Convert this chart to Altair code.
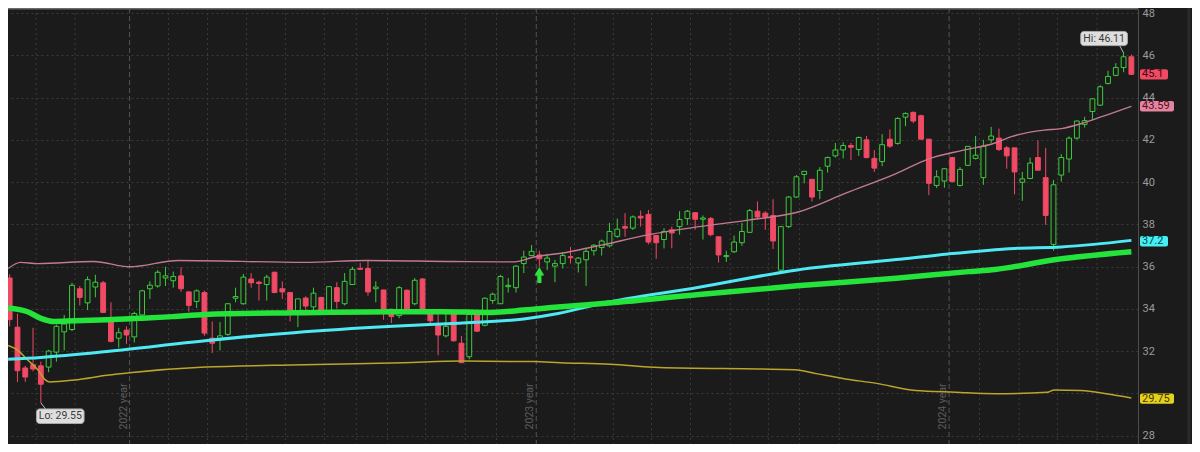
import altair as alt
import pandas as pd

# ---------------- weekly candles (index 0 = first visible week) ----------------
opens = [35.46, 33.13, 31.20, 31.35, 31.30, 31.24, 31.95, 32.91, 33.02, 34.95,
         34.28, 35.03, 35.23, 33.48, 32.61, 32.99, 32.67, 33.71, 34.95, 35.08,
         35.46, 35.33, 35.56, 34.80, 34.35, 34.77, 32.61, 32.57, 32.79, 34.50,
         34.24, 35.41, 35.26, 35.15, 35.73, 34.95, 34.77, 33.89, 34.51, 34.09,
         34.54, 33.89, 35.00, 34.24, 35.15, 35.91, 35.91, 34.95, 34.89, 33.98,
         33.68, 34.88, 34.24, 35.41, 33.83, 33.22, 32.72, 33.78, 32.37, 31.73,
         33.73, 33.22, 34.39, 34.24, 35.05, 35.00, 36.14, 36.52, 36.55, 36.22,
         36.02, 36.14, 36.47, 36.17, 36.32, 36.75, 36.90, 36.98, 37.43, 37.89,
         37.82, 38.38, 38.47, 37.47, 37.28, 37.74, 37.89, 38.27, 38.55, 38.24,
         38.27, 37.41, 36.47, 36.70, 37.13, 37.62, 38.62, 38.53, 38.42, 35.83,
         37.89, 39.29, 40.36, 40.13, 39.60, 40.75, 41.24, 41.52, 41.73, 41.54,
         42.00, 41.12, 40.97, 42.03, 41.83, 43.07, 43.30, 43.14, 42.03, 39.84,
         40.05, 41.16, 39.84, 40.79, 41.12, 40.21, 42.00, 42.08, 41.62, 41.62,
         39.99, 40.17, 41.16, 40.21, 37.05, 40.33, 41.09, 42.08, 42.73, 43.34,
         43.64, 44.67, 45.05, 45.42, 45.93]
highs = [35.64, 33.77, 31.30, 33.10, 31.50, 32.06, 33.25, 33.71, 35.23, 35.08,
         35.53, 35.61, 35.32, 34.31, 33.10, 33.17, 33.86, 34.90, 35.30, 35.83,
         35.99, 35.76, 35.96, 34.82, 34.92, 34.86, 33.40, 33.37, 34.27, 35.00,
         35.65, 35.69, 35.33, 35.61, 35.76, 35.30, 34.80, 34.47, 34.59, 35.00,
         34.56, 35.07, 35.26, 35.69, 35.99, 36.17, 36.32, 35.30, 34.91, 34.00,
         35.08, 34.92, 35.46, 35.46, 33.98, 33.78, 33.83, 33.81, 32.72, 33.78,
         33.89, 34.54, 34.77, 35.61, 35.46, 36.06, 36.75, 37.02, 36.75, 36.60,
         36.32, 36.68, 36.93, 36.45, 36.83, 37.05, 37.28, 38.07, 38.27, 38.53,
         38.42, 38.65, 38.68, 37.47, 37.82, 37.89, 38.62, 38.68, 38.58, 38.42,
         38.35, 37.41, 36.75, 37.47, 38.07, 38.73, 39.08, 38.62, 39.19, 37.89,
         39.34, 40.33, 40.52, 40.13, 40.71, 41.21, 41.85, 41.88, 41.85, 42.16,
         42.18, 41.52, 42.27, 42.49, 43.07, 43.30, 43.34, 43.19, 42.03, 40.56,
         40.66, 41.16, 40.71, 41.71, 42.18, 42.00, 42.61, 42.53, 41.70, 41.62,
         40.48, 41.16, 41.97, 41.62, 40.10, 41.32, 42.16, 42.91, 43.09, 43.98,
         44.59, 45.27, 45.63, 46.11, 46.04]
lows = [33.17, 30.53, 30.54, 31.04, 29.55, 31.00, 31.50, 32.03, 32.94, 34.16,
        33.94, 34.54, 33.80, 32.41, 32.16, 32.34, 32.41, 33.65, 34.47, 35.00,
        35.08, 35.00, 34.80, 33.86, 34.04, 32.72, 31.91, 32.03, 32.72, 34.31,
        34.19, 35.00, 34.39, 34.39, 34.74, 34.47, 33.40, 33.13, 33.94, 33.89,
        33.87, 33.87, 34.01, 34.16, 35.13, 35.84, 34.62, 34.31, 33.48, 33.32,
        33.55, 33.94, 34.16, 33.94, 33.25, 31.80, 32.64, 32.44, 31.43, 31.61,
        32.91, 33.17, 34.24, 34.24, 34.77, 34.77, 35.69, 36.52, 35.99, 35.83,
        35.26, 35.91, 36.14, 35.72, 35.08, 36.52, 36.52, 36.90, 37.36, 37.41,
        37.74, 37.89, 37.05, 36.37, 36.86, 36.86, 37.51, 37.97, 37.74, 37.28,
        37.43, 36.19, 36.22, 36.64, 36.98, 37.59, 38.23, 37.74, 36.83, 35.76,
        37.82, 39.26, 39.94, 39.08, 39.19, 40.45, 41.16, 41.12, 41.04, 41.24,
        41.12, 40.48, 40.75, 41.62, 41.77, 42.64, 42.79, 42.00, 39.38, 39.72,
        39.73, 39.99, 39.79, 40.77, 41.07, 39.87, 41.85, 41.47, 40.63, 39.42,
        39.11, 40.14, 40.56, 37.97, 36.75, 40.02, 40.45, 42.00, 42.58, 42.94,
        43.60, 44.62, 45.01, 45.20, 45.08]
closes = [33.49, 31.07, 30.77, 31.15, 30.43, 32.00, 33.17, 33.28, 35.11, 34.54,
          35.38, 35.26, 33.83, 32.46, 32.87, 32.76, 33.78, 34.85, 35.12, 35.73,
          35.56, 35.53, 34.95, 34.16, 34.85, 32.85, 32.37, 32.72, 34.24, 34.58,
          35.50, 35.23, 35.20, 35.50, 34.77, 34.80, 33.89, 34.47, 34.13, 34.74,
          33.89, 35.05, 34.35, 35.30, 35.87, 35.87, 34.80, 35.03, 33.78, 33.63,
          35.00, 33.98, 35.35, 33.98, 33.43, 32.76, 33.17, 32.49, 31.45, 33.73,
          32.94, 34.50, 34.69, 35.53, 35.11, 36.02, 36.45, 36.72, 36.37, 36.40,
          36.14, 36.52, 36.42, 36.40, 36.72, 37.01, 37.21, 37.66, 37.77, 37.82,
          38.35, 38.30, 37.16, 37.13, 37.66, 37.59, 38.23, 38.62, 38.24, 38.30,
          37.51, 36.55, 36.52, 37.16, 37.66, 38.65, 38.35, 38.35, 37.21, 37.89,
          39.29, 40.25, 40.51, 39.29, 40.56, 41.16, 41.52, 41.73, 41.65, 42.11,
          41.16, 40.66, 41.77, 41.70, 43.01, 43.25, 42.89, 42.03, 39.94, 40.25,
          40.63, 40.02, 40.60, 41.69, 41.27, 41.70, 42.18, 41.54, 41.24, 40.48,
          40.15, 40.90, 40.56, 38.42, 39.87, 41.16, 42.08, 42.89, 42.91, 43.94,
          44.51, 45.00, 45.42, 45.93, 45.10]

# ---------------- moving averages (week index, value) ----------------
green_ma_i = [-0.2, 2.3, 4.0, 5.7, 8.3, 12.5, 16.6, 20.9, 25.1, 36.5, 49.2, 55.5,
              61.9, 66.0, 70.4, 75.8, 88.5, 101.1, 113.8, 123.1, 126.5, 134.1, 144.0]
green_ma_v = [34.04, 33.86, 33.55, 33.40, 33.43, 33.48, 33.55, 33.63, 33.73, 33.81,
              33.86, 33.86, 33.83, 33.94, 34.09, 34.24, 34.68, 35.09, 35.45, 35.76,
              35.86, 36.32, 36.70]
cyan_ma_i = [-0.2, 4.0, 12.5, 25.1, 36.5, 49.2, 57.7, 66.0, 70.4, 75.8, 88.5,
             101.1, 113.8, 120.5, 129.0, 135.0, 139.2, 144.0]
cyan_ma_v = [31.61, 31.70, 31.98, 32.49, 32.87, 33.17, 33.32, 33.52, 33.78, 34.24,
             35.02, 35.84, 36.33, 36.60, 36.86, 36.93, 37.05, 37.24]
pink_ma_i = [-0.2, 1.4, 3.6, 10.8, 15.4, 21.7, 37.8, 45.8, 56.8, 64.8, 67.3, 71.6,
             75.8, 82.1, 88.5, 94.8, 101.1, 107.5, 113.8, 118.0, 122.3, 126.5,
             128.6, 132.8, 135.0, 137.5, 140.0, 144.0]
pink_ma_v = [35.91, 36.20, 36.14, 36.24, 35.99, 36.29, 36.20, 36.29, 36.24, 36.22,
             36.45, 36.68, 37.00, 37.51, 37.89, 38.20, 38.57, 39.50, 40.40, 41.10,
             41.50, 41.85, 42.15, 42.46, 42.53, 42.76, 43.07, 43.59]
yellow_ma_i = [-0.2, 1.05, 2.3, 3.6, 4.5, 5.1, 8.3, 12.5, 15.4, 25.1, 37.8, 50.5,
               58.1, 67.3, 70.7, 77.1, 83.4, 96.1, 100.8, 103.7, 107.1, 111.3,
               116.3, 121.4, 126.5, 133.2, 134.1, 137.5, 140.8, 144.0]
yellow_ma_v = [32.26, 32.03, 31.58, 31.12, 30.66, 30.54, 30.63, 30.85, 30.97, 31.24,
               31.35, 31.45, 31.53, 31.50, 31.45, 31.38, 31.22, 31.15, 31.12, 30.92,
               30.69, 30.47, 30.13, 30.05, 29.98, 30.05, 30.16, 30.13, 29.98, 29.78]

# ---------------- axes / annotations ----------------
grid_weeks = [3.4, 8.4, 20.4, 25.4, 30.4, 35.4, 40.4, 44.5, 48.5, 53.4, 58.5, 62.5,
              72.5, 77.5, 82.4, 87.4, 92.5, 97.4, 101.4, 106.5, 111.5, 124.5, 129.6,
              134.5, 139.6]
year_weeks = [15.4, 67.6, 120.6]
year_labels = ["2022 year", "2023 year", "2024 year"]
y_ticks = [28, 30, 32, 34, 36, 38, 40, 42, 44, 46, 48]
hidden_tick = 30          # covered by the 29.75 price tag in the original
tag_values = [45.1, 43.59, 37.2, 29.75]
tag_labels = ["45.1", "43.59", "37.2", "29.75"]
lo_value, lo_week = 29.55, 4
hi_value, hi_week = 46.11, 143
signal_week = 68

# ---------------- styling ----------------
W, H = 1130, 436
RIGHT = 54
BG = "#1b1b1b"
RED = "#f04a64"
GREEN = "#3ccb3c"
FONT = "Roboto"
PX_PER_UNIT = H / (48.24 - 27.60)

xs = alt.Scale(domain=[-0.215, 144.85], nice=False, zero=False)
ys = alt.Scale(domain=[27.60, 48.24], nice=False, zero=False)
yaxis = alt.Axis(orient="right", values=y_ticks, grid=True, gridColor="#3b3b3b",
                 gridDash=[2, 3], gridWidth=1, domain=True, domainColor="#4d4d4d",
                 ticks=False, labelColor="#9c9c9c", labelFontSize=11, labelFont=FONT,
                 labelPadding=4, labelFlush=False, labelAlign="left",
                 labelBaseline="middle", title=None,
                 labelExpr=f"datum.value == {hidden_tick} ? '' : datum.label")


def X(field):
    return alt.X(field, type="quantitative", scale=xs, axis=None)


def Y(field):
    return alt.Y(field, type="quantitative", scale=ys, axis=yaxis)


candles = pd.DataFrame({"i": list(range(len(opens))), "open": opens, "high": highs,
                        "low": lows, "close": closes})
candles["xl"] = candles["i"] - 0.31
candles["xr"] = candles["i"] + 0.31
up = "datum.close >= datum.open"

layers = []

# vertical dotted grid
layers.append(alt.Chart(pd.DataFrame({"g": grid_weeks})).mark_rule(
    color="#3b3b3b", strokeDash=[2, 3], strokeWidth=1).encode(x=X("g")))

# year separators
years = pd.DataFrame({"g": year_weeks, "label": year_labels,
                      "gx": [w - 0.12 for w in year_weeks], "yy": [28.29] * 3})
layers.append(alt.Chart(years).mark_rule(color="#555555", strokeDash=[5, 3],
                                         strokeWidth=1).encode(x=X("g")))
layers.append(alt.Chart(years).mark_text(angle=270, align="left", baseline="bottom",
                                         fontSize=10.5, font=FONT, color="#5c5c5c").encode(
    x=X("gx"), y=Y("yy"), text="label:N"))

# candle wicks & bodies
layers.append(alt.Chart(candles).mark_rule(strokeWidth=1).encode(
    x=X("i"), y=Y("low"), y2="high",
    color=alt.condition(up, alt.value(GREEN), alt.value(RED))))
layers.append(alt.Chart(candles).mark_rect(strokeWidth=1).encode(
    x=X("xl"), x2="xr", y=Y("open"), y2="close",
    fill=alt.condition(up, alt.value(BG), alt.value(RED)),
    stroke=alt.condition(up, alt.value(GREEN), alt.value(RED))))

# moving averages
for mi, mv, col, wdt in [(yellow_ma_i, yellow_ma_v, "#bba52a", 1.5),
                         (pink_ma_i, pink_ma_v, "#c27a92", 1.4),
                         (cyan_ma_i, cyan_ma_v, "#4fe9f4", 3),
                         (green_ma_i, green_ma_v, "#24e33a", 5.5)]:
    layers.append(alt.Chart(pd.DataFrame({"i": mi, "v": mv})).mark_line(
        color=col, strokeWidth=wdt, interpolate="monotone").encode(x=X("i"), y=Y("v")))

# buy arrow under the signal week
arrow = pd.DataFrame({"i": [signal_week], "head": [35.78], "s0": [35.22], "s1": [35.66],
                      "xl": [signal_week - 0.27], "xr": [signal_week + 0.27]})
layers.append(alt.Chart(arrow).mark_rect(color="#2fe23c").encode(
    x=X("xl"), x2="xr", y=Y("s0"), y2="s1"))
layers.append(alt.Chart(arrow).mark_point(shape="triangle-up", filled=True, size=95,
                                          color="#2fe23c", opacity=1).encode(
    x=X("i"), y=Y("head")))

# Hi / Lo callouts
callouts = pd.DataFrame({
    "label": [f"Lo: {lo_value}", f"Hi: {hi_value}"],
    "px": [lo_week, hi_week], "pv": [lo_value, hi_value],
    "cx": [lo_week + 0.6, hi_week - 0.5], "cv": [lo_value - 0.29, hi_value + 0.35],
    "bx0": [lo_week - 0.55, hi_week - 5.5], "bx1": [lo_week + 5.55, hi_week + 0.5],
    "bv0": [lo_value - 0.98, hi_value + 0.35], "bv1": [lo_value - 0.29, hi_value + 1.02],
    "tx": [lo_week + 2.5, hi_week - 2.5], "tv": [lo_value - 0.635, hi_value + 0.685],
})
layers.append(alt.Chart(callouts).mark_rule(color="#bdbdbd", strokeWidth=1).encode(
    x=X("px"), x2="cx", y=Y("pv"), y2="cv"))
layers.append(alt.Chart(callouts).mark_rect(fill="#dedede", stroke="#a8a8a8",
                                            strokeWidth=1, cornerRadius=3).encode(
    x=X("bx0"), x2="bx1", y=Y("bv0"), y2="bv1"))
layers.append(alt.Chart(callouts).mark_text(fontSize=10.5, font=FONT, color="#3a3a3a",
                                            align="center", baseline="middle").encode(
    x=X("tx"), y=Y("tv"), text="label:N"))

# price tags on the right axis
tag_styles = [("#f04a64", "#45050f"), ("#e684a0", "#4d1025"),
              ("#45eff2", "#034548"), ("#e6d11c", "#423a00")]
hh = 5.2 / PX_PER_UNIT
for v, lab, (fillc, textc) in zip(tag_values, tag_labels, tag_styles):
    d = pd.DataFrame({"v": [v], "v0": [v - hh], "v1": [v + hh], "label": [lab]})
    bw = 6.0 * len(lab) + 4
    layers.append(alt.Chart(d).mark_rect(fill=fillc, cornerRadius=2).encode(
        x=alt.value(W + 2), x2=alt.value(W + 2 + bw), y=Y("v0"), y2="v1"))
    layers.append(alt.Chart(d).mark_text(fontSize=11, font=FONT, color=textc,
                                         align="left", baseline="middle").encode(
        x=alt.value(W + 4), y=Y("v"), text="label:N"))

# top border and right-edge strip
layers.append(alt.Chart(pd.DataFrame({"a": [0]})).mark_rule(
    color="#6a6a6a", strokeWidth=1.5).encode(
    x=alt.value(0), x2=alt.value(W), y=alt.value(0.75)))
layers.append(alt.Chart(pd.DataFrame({"a": [0]})).mark_rule(
    color="#2a2a2a", strokeWidth=3).encode(
    x=alt.value(W + 51), y=alt.value(0), y2=alt.value(H)))

chart = alt.layer(*layers).properties(
    width=W, height=H, background=BG,
    padding={"left": 0, "top": 0, "right": RIGHT, "bottom": 0},
    autosize=alt.AutoSizeParams(type="none"),
).configure_view(stroke=None)

chart.save("out.html", embed_options={"renderer": "svg", "actions": False})
